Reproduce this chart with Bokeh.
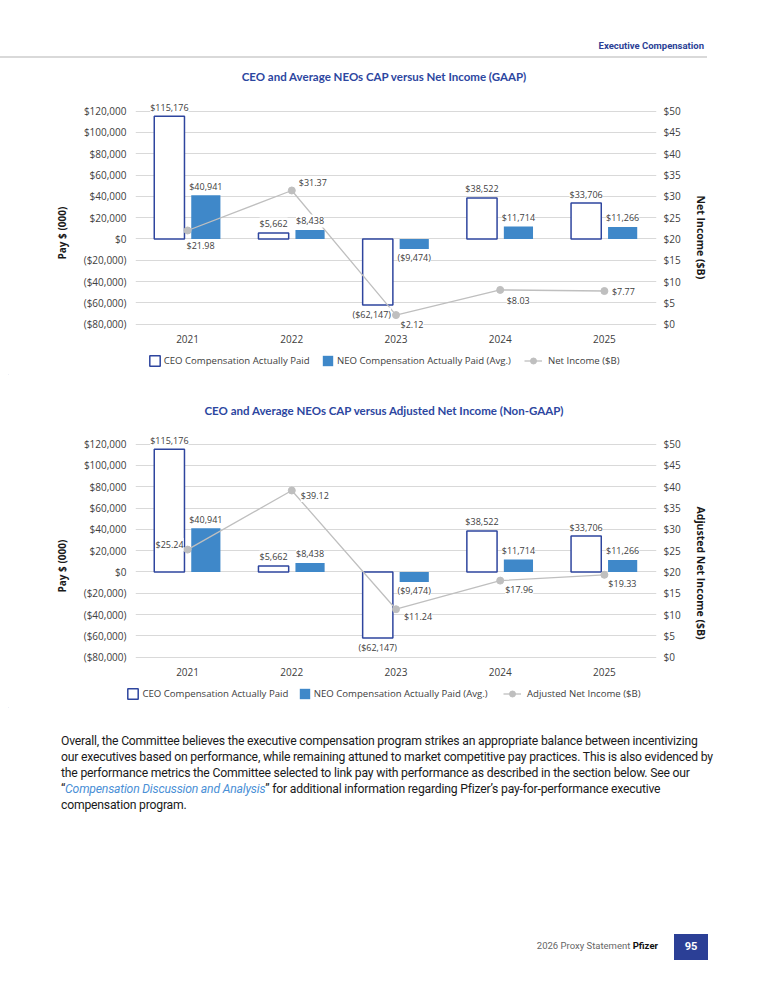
from bokeh.plotting import figure
from bokeh.models import (FactorRange, Range1d, LinearAxis, FixedTicker, ColumnDataSource,
                          LabelSet, Legend, LegendItem, Title, Div)
from bokeh.transform import dodge
from bokeh.layouts import column
from bokeh.core.properties import value
from bokeh.embed import file_html
from bokeh.resources import INLINE

# ---------------- data ----------------
years = ["2021", "2022", "2023", "2024", "2025"]
ceo_cap = [115176, 5662, -62147, 38522, 33706]
neo_cap = [40941, 8438, -9474, 11714, 11266]
net_income = [21.98, 31.37, 2.12, 8.03, 7.77]
adj_net_income = [25.24, 39.12, 11.24, 17.96, 19.33]

pay_ticks = [-80000, -60000, -40000, -20000, 0, 20000, 40000, 60000, 80000, 100000, 120000]
pay_tick_labels = ["($80,000)", "($60,000)", "($40,000)", "($20,000)", "$0", "$20,000",
                   "$40,000", "$60,000", "$80,000", "$100,000", "$120,000"]
income_ticks = [0, 5, 10, 15, 20, 25, 30, 35, 40, 45, 50]
income_tick_labels = ["$0", "$5", "$10", "$15", "$20", "$25", "$30", "$35", "$40", "$45", "$50"]

title_1 = "CEO and Average NEOs CAP versus Net Income (GAAP)"
title_2 = "CEO and Average NEOs CAP versus Adjusted Net Income (Non-GAAP)"
ceo_label = "CEO Compensation Actually Paid"
neo_label = "NEO Compensation Actually Paid (Avg.)"
income_label_1 = "Net Income ($B)"
income_label_2 = "Adjusted Net Income ($B)"
left_title = "Pay $ (000)"

# ---------------- styles ----------------
CEO_LINE = "#2E459E"
NEO_FILL = "#3F88C9"
LINE_GREY = "#BFBFBF"
GRID = "#D9D9D9"
TXT = "#404040"
BLUE_TITLE = "#2C46A0"
FONT = "Open Sans"

# label offsets (screen px: dx right, dy down) per point
ni_offsets_1 = [(13, 15), (21, -8), (16, 9), (18, 11), (19, 0)]
ni_offsets_2 = [(-18, -5), (23, 5), (22, 7), (19, 9), (18, 9)]
ceo_dx_1 = [0, 0, -6, 0, 0]
ceo_dx_2 = [0, 0, 0, 0, 0]

Y_LO, Y_HI = -86000, 130000


def fmt_pay(v):
    return f"${v:,}" if v >= 0 else f"(${-v:,})"


def to_income(y):
    return (y - pay_ticks[0]) * (income_ticks[-1] - income_ticks[0]) / (pay_ticks[-1] - pay_ticks[0]) + income_ticks[0]


def make_chart(income, inc_label, ni_offsets, ceo_dx, right_offset):
    p = figure(width=752, height=264, x_range=FactorRange(*years, range_padding=0),
               y_range=Range1d(Y_LO, Y_HI), output_backend="svg", toolbar_location=None,
               min_border_left=127, min_border_right=104, min_border_top=12, min_border_bottom=22,
               title=None)
    p.outline_line_color = None
    p.background_fill_color = "white"
    p.xgrid.visible = False
    p.ygrid.ticker = FixedTicker(ticks=pay_ticks)
    p.ygrid.grid_line_color = GRID
    p.ygrid.grid_line_width = 1

    p.extra_y_ranges = {"ni": Range1d(to_income(Y_LO), to_income(Y_HI))}

    ya = p.yaxis[0]
    ya.ticker = FixedTicker(ticks=pay_ticks)
    ya.major_label_overrides = dict(zip(pay_ticks, pay_tick_labels))
    xa = p.xaxis[0]
    ra = LinearAxis(y_range_name="ni", ticker=FixedTicker(ticks=income_ticks),
                    major_label_overrides=dict(zip(income_ticks, income_tick_labels)))
    p.add_layout(ra, "right")
    for ax in (ya, xa, ra):
        ax.axis_line_color = None
        ax.major_tick_line_color = None
        ax.minor_tick_line_color = None
        ax.major_tick_out = 0
        ax.major_tick_in = 0
        ax.major_label_text_font = FONT
        ax.major_label_text_font_size = "10px"
        ax.major_label_text_color = TXT
    ya.major_label_standoff = 9
    ra.major_label_standoff = 7
    xa.major_label_standoff = 4

    p.add_layout(Title(text=left_title, align="left", offset=71, standoff=22, vertical_align="middle",
                       text_font=FONT, text_font_size="10px", text_font_style="bold",
                       text_color="#1A1A1A"), "left")
    p.add_layout(Title(text=inc_label, align="left", offset=right_offset, standoff=18,
                       vertical_align="middle", text_font=FONT, text_font_size="10.5px",
                       text_font_style="bold", text_color="#1A1A1A"), "right")

    src = ColumnDataSource(dict(
        year=years, ceo=ceo_cap, neo=neo_cap, inc=income,
        ceo_txt=[fmt_pay(v) for v in ceo_cap],
        neo_txt=[fmt_pay(v) for v in neo_cap],
        inc_txt=[f"${v:.2f}" for v in income],
        ceo_yo=[9 if v >= 0 else -9 for v in ceo_cap],
        ceo_xo=ceo_dx,
        neo_yo=[9 if v >= 0 else -8 for v in neo_cap],
        inc_xo=[d[0] for d in ni_offsets],
        inc_yo=[-d[1] for d in ni_offsets],
    ))

    p.vbar(x=dodge("year", -0.175, range=p.x_range), top="ceo", width=0.29, source=src,
           fill_color="white", line_color=CEO_LINE, line_width=1.5)
    p.vbar(x=dodge("year", 0.175, range=p.x_range), top="neo", width=0.28, source=src,
           fill_color=NEO_FILL, line_color=None)
    p.line(x="year", y="inc", source=src, y_range_name="ni", line_color=LINE_GREY, line_width=1.3)
    p.scatter(x="year", y="inc", source=src, y_range_name="ni", marker="circle", size=7,
              fill_color=LINE_GREY, line_color=LINE_GREY)

    common = dict(source=src, text_font=value(FONT), text_font_size="9px", text_color=TXT,
                  text_align="center", text_baseline="middle", background_fill_color="white")
    p.add_layout(LabelSet(x=dodge("year", -0.175, range=p.x_range), y="ceo", text="ceo_txt",
                          x_offset="ceo_xo", y_offset="ceo_yo", **common))
    p.add_layout(LabelSet(x=dodge("year", 0.175, range=p.x_range), y="neo", text="neo_txt",
                          y_offset="neo_yo", **common))
    p.add_layout(LabelSet(x="year", y="inc", y_range_name="ni", text="inc_txt",
                          x_offset="inc_xo", y_offset="inc_yo", **common))
    return p


def make_legend(inc_label, xs):
    """Legend strip below a chart; xs = left edge of each legend glyph (px from strip left)."""
    H = 23
    lp = figure(width=752, height=H, x_range=Range1d(0, 1), y_range=Range1d(0, 1),
                output_backend="svg", toolbar_location=None, title=None,
                x_axis_location=None, y_axis_location=None, frame_align=False,
                min_border_left=0, min_border_right=0, min_border_top=0, min_border_bottom=0)
    lp.outline_line_color = None
    lp.xgrid.visible = False
    lp.ygrid.visible = False
    # legend-only proxies, placed outside the visible range
    r_ceo = lp.vbar(x=[-5], top=[-5], width=0.3, fill_color="white", line_color=CEO_LINE, line_width=1.5)
    r_neo = lp.vbar(x=[-5], top=[-5], width=0.3, fill_color=NEO_FILL, line_color=None)
    r_line = lp.line(x=[-5, -4], y=[-5, -5], line_color=LINE_GREY, line_width=1.3)
    r_dot = lp.scatter(x=[-5], y=[-5], marker="circle", fill_color=LINE_GREY, line_color=LINE_GREY)
    center_from_bottom = H - 8

    def add(label, rends, vx, gw, gh, standoff):
        lg = Legend(items=[LegendItem(label=label, renderers=rends)],
                    location=(vx, center_from_bottom - gh / 2),
                    orientation="horizontal", glyph_width=gw, glyph_height=gh, label_height=gh,
                    label_standoff=standoff, padding=0, margin=0, spacing=0,
                    border_line_color=None, background_fill_alpha=0,
                    label_text_font=FONT, label_text_font_size="9.6px", label_text_color=TXT)
        lp.add_layout(lg, "center")

    add(ceo_label, [r_ceo], xs[0], 13, 13, 3)
    add(neo_label, [r_neo], xs[1], 13, 13, 3)
    add(inc_label, [r_line, r_dot], xs[2], 18, 15, 6)
    return lp


p1 = make_chart(net_income, income_label_1, ni_offsets_1, ceo_dx_1, 95)
l1 = make_legend(income_label_1, (139.7, 313, 516))
p2 = make_chart(adj_net_income, income_label_2, ni_offsets_2, ceo_dx_2, 73)
l2 = make_legend(income_label_2, (118.4, 289.8, 495))

HDR_BLUE = "#2B3F96"
TITLE_FONT = "font-family:Lato;font-weight:700;font-size:11.5px;line-height:16px;"

header_html = f"""
<div style="position:relative;width:752px;height:80px;">
  <div style="position:absolute;right:56px;top:32px;font-family:Roboto;font-weight:700;font-size:9.5px;line-height:12px;color:{HDR_BLUE};white-space:nowrap;">Executive Compensation</div>
  <div style="position:absolute;left:-8px;top:48px;width:707px;height:2px;background:{GRID};"></div>
  <div style="position:absolute;left:0;top:61px;width:752px;text-align:center;{TITLE_FONT}color:{BLUE_TITLE};white-space:nowrap;">{title_1}</div>
</div>"""
header = Div(text=header_html, width=752, height=80, margin=0)

title2_html = f"""
<div style="position:relative;width:752px;height:46px;">
  <div style="position:absolute;left:0;top:28px;width:752px;text-align:center;{TITLE_FONT}color:{BLUE_TITLE};white-space:nowrap;">{title_2}</div>
</div>"""
title2 = Div(text=title2_html, width=752, height=46, margin=0)

para_lines = [
    "Overall, the Committee believes the executive compensation program strikes an appropriate balance between incentivizing",
    "our executives based on performance, while remaining attuned to market competitive pay practices. This is also evidenced by",
    "the performance metrics the Committee selected to link pay with performance as described in the section below. See our",
    "\u201c<i style=\"color:#4A8FD6\">Compensation Discussion and Analysis</i>\u201d for additional information regarding Pfizer\u2019s pay-for-performance executive",
    "compensation program.",
]
footer_html = f"""
<div style="position:relative;width:752px;height:267px;">
  <div style="position:absolute;left:53px;top:25px;font-family:Roboto;font-size:12.2px;letter-spacing:-0.2px;line-height:16px;color:#1A1A1A;white-space:nowrap;">{'<br>'.join(para_lines)}</div>
  <div style="position:absolute;right:102px;top:232px;font-family:Roboto;font-size:9.5px;line-height:12px;color:#666666;white-space:nowrap;">2026 Proxy Statement <b style="color:#111111;">Pfizer</b></div>
  <div style="position:absolute;left:666px;top:226px;width:34px;height:26px;background:{HDR_BLUE};color:white;font-family:Roboto;font-weight:700;font-size:11px;line-height:26px;text-align:center;">95</div>
</div>"""
footer = Div(text=footer_html, width=752, height=267, margin=0)

page = column(header, p1, l1, title2, p2, l2, footer, spacing=0, margin=(8, 8, 8, 8))
open("out.html", "w").write(file_html(page, INLINE))
